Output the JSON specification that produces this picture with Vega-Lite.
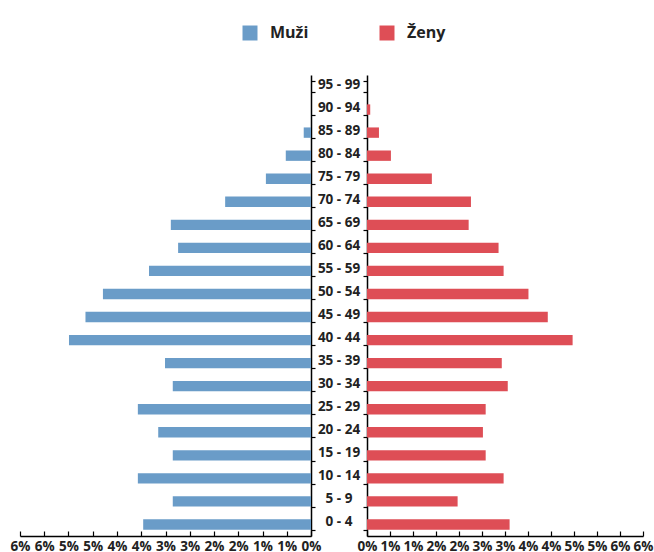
{
  "$schema": "https://vega.github.io/schema/vega-lite/v6.json",
  "background": "white",
  "padding": {"left": 10, "top": 25, "right": 5, "bottom": 2},
  "spacing": 0,
  "bounds": "flush",
  "config": {
    "view": {"stroke": null},
    "font": "Open Sans",
    "axis": {
      "domainColor": "#000000",
      "domainWidth": 1.5,
      "tickColor": "#000000",
      "tickWidth": 1.2,
      "labelColor": "#222222",
      "labelFont": "Open Sans",
      "labelFontWeight": "bold",
      "labelFontSize": 13.5,
      "labelOverlap": false,
      "labelFlush": false,
      "labelBound": false,
      "grid": false,
      "title": null
    }
  },
  "data": {
    "values": [
      {"age": "95 - 99", "sex": "Muži", "value": 0},
      {"age": "90 - 94", "sex": "Muži", "value": 0},
      {"age": "85 - 89", "sex": "Muži", "value": 0.15},
      {"age": "80 - 84", "sex": "Muži", "value": 0.52},
      {"age": "75 - 79", "sex": "Muži", "value": 0.93},
      {"age": "70 - 74", "sex": "Muži", "value": 1.77},
      {"age": "65 - 69", "sex": "Muži", "value": 2.89},
      {"age": "60 - 64", "sex": "Muži", "value": 2.74},
      {"age": "55 - 59", "sex": "Muži", "value": 3.34},
      {"age": "50 - 54", "sex": "Muži", "value": 4.29},
      {"age": "45 - 49", "sex": "Muži", "value": 4.65},
      {"age": "40 - 44", "sex": "Muži", "value": 4.99},
      {"age": "35 - 39", "sex": "Muži", "value": 3.01},
      {"age": "30 - 34", "sex": "Muži", "value": 2.85},
      {"age": "25 - 29", "sex": "Muži", "value": 3.57},
      {"age": "20 - 24", "sex": "Muži", "value": 3.15},
      {"age": "15 - 19", "sex": "Muži", "value": 2.85},
      {"age": "10 - 14", "sex": "Muži", "value": 3.57},
      {"age": "5 - 9", "sex": "Muži", "value": 2.85},
      {"age": "0 - 4", "sex": "Muži", "value": 3.46},
      {"age": "95 - 99", "sex": "Ženy", "value": 0},
      {"age": "90 - 94", "sex": "Ženy", "value": 0.07},
      {"age": "85 - 89", "sex": "Ženy", "value": 0.26},
      {"age": "80 - 84", "sex": "Ženy", "value": 0.52},
      {"age": "75 - 79", "sex": "Ženy", "value": 1.41},
      {"age": "70 - 74", "sex": "Ženy", "value": 2.26},
      {"age": "65 - 69", "sex": "Ženy", "value": 2.21},
      {"age": "60 - 64", "sex": "Ženy", "value": 2.86},
      {"age": "55 - 59", "sex": "Ženy", "value": 2.97},
      {"age": "50 - 54", "sex": "Ženy", "value": 3.51},
      {"age": "45 - 49", "sex": "Ženy", "value": 3.93},
      {"age": "40 - 44", "sex": "Ženy", "value": 4.47},
      {"age": "35 - 39", "sex": "Ženy", "value": 2.93},
      {"age": "30 - 34", "sex": "Ženy", "value": 3.06},
      {"age": "25 - 29", "sex": "Ženy", "value": 2.58},
      {"age": "20 - 24", "sex": "Ženy", "value": 2.52},
      {"age": "15 - 19", "sex": "Ženy", "value": 2.58},
      {"age": "10 - 14", "sex": "Ženy", "value": 2.97},
      {"age": "5 - 9", "sex": "Ženy", "value": 1.97},
      {"age": "0 - 4", "sex": "Ženy", "value": 3.1}
    ]
  },
  "hconcat": [
    {
      "width": 291,
      "height": 461,
      "transform": [{"filter": "datum.sex === 'Muži'"}],
      "mark": {"type": "bar"},
      "encoding": {
        "y": {
          "field": "age", "type": "nominal",
          "sort": ["95 - 99","90 - 94","85 - 89","80 - 84","75 - 79","70 - 74","65 - 69","60 - 64","55 - 59","50 - 54","45 - 49","40 - 44","35 - 39","30 - 34","25 - 29","20 - 24","15 - 19","10 - 14","5 - 9","0 - 4"],
          "scale": {"paddingInner": 0.55, "paddingOuter": 0.275},
          "axis": {"orient": "right", "labels": false, "tickBand": "extent", "tickSize": 4}
        },
        "x": {
          "field": "value", "type": "quantitative",
          "scale": {"domain": [0, 6], "reverse": true, "nice": false},
          "axis": {"orient": "bottom", "values": [0,0.5,1,1.5,2,2.5,3,3.5,4,4.5,5,5.5,6], "labelExpr": "round(datum.value) + '%'", "tickSize": -5, "labelPadding": 8}
        },
        "color": {
          "field": "sex", "type": "nominal",
          "scale": {"domain": ["Muži", "Ženy"], "range": ["#6a9cc8", "#de4e56"]},
          "legend": {"orient": "none", "legendX": 222, "legendY": -50, "direction": "horizontal", "title": null, "symbolType": "square", "symbolSize": 225, "symbolStrokeWidth": 0, "symbolOpacity": 1, "labelFontSize": 16, "labelFontWeight": "bold", "labelFont": "Open Sans", "labelColor": "#222222", "labelOffset": 12, "columnPadding": 70}
        }
      }
    },
    {
      "width": 56,
      "height": 461,
      "transform": [{"filter": "datum.sex === 'Muži'"}],
      "mark": {"type": "text", "font": "Open Sans", "fontWeight": "bold", "fontSize": 13.5, "color": "#222222", "dy": -2},
      "encoding": {
        "y": {
          "field": "age", "type": "nominal",
          "sort": ["95 - 99","90 - 94","85 - 89","80 - 84","75 - 79","70 - 74","65 - 69","60 - 64","55 - 59","50 - 54","45 - 49","40 - 44","35 - 39","30 - 34","25 - 29","20 - 24","15 - 19","10 - 14","5 - 9","0 - 4"],
          "scale": {"paddingInner": 0.55, "paddingOuter": 0.275},
          "axis": null
        },
        "text": {"field": "age", "type": "nominal"}
      }
    },
    {
      "width": 276,
      "height": 461,
      "transform": [{"filter": "datum.sex === 'Ženy'"}],
      "mark": {"type": "bar"},
      "encoding": {
        "y": {
          "field": "age", "type": "nominal",
          "sort": ["95 - 99","90 - 94","85 - 89","80 - 84","75 - 79","70 - 74","65 - 69","60 - 64","55 - 59","50 - 54","45 - 49","40 - 44","35 - 39","30 - 34","25 - 29","20 - 24","15 - 19","10 - 14","5 - 9","0 - 4"],
          "scale": {"paddingInner": 0.55, "paddingOuter": 0.275},
          "axis": {"orient": "left", "labels": false, "tickBand": "extent", "tickSize": 4}
        },
        "x": {
          "field": "value", "type": "quantitative",
          "scale": {"domain": [0, 6], "nice": false},
          "axis": {"orient": "bottom", "values": [0,0.5,1,1.5,2,2.5,3,3.5,4,4.5,5,5.5,6], "labelExpr": "round(datum.value) + '%'", "tickSize": -5, "labelPadding": 8}
        },
        "color": {
          "field": "sex", "type": "nominal",
          "scale": {"domain": ["Muži", "Ženy"], "range": ["#6a9cc8", "#de4e56"]},
          "legend": {"orient": "none", "legendX": 222, "legendY": -50, "direction": "horizontal", "title": null, "symbolType": "square", "symbolSize": 225, "symbolStrokeWidth": 0, "symbolOpacity": 1, "labelFontSize": 16, "labelFontWeight": "bold", "labelFont": "Open Sans", "labelColor": "#222222", "labelOffset": 12, "columnPadding": 70}
        }
      }
    }
  ]
}
